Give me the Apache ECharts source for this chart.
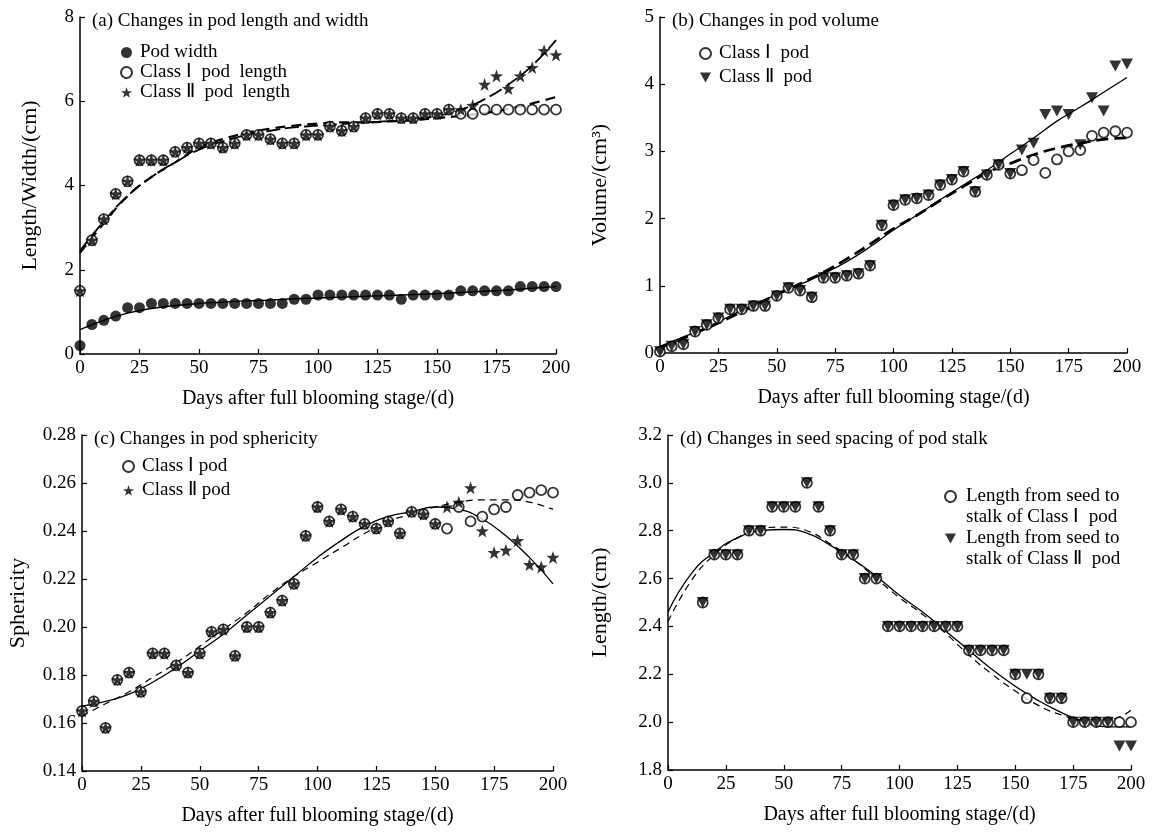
<!DOCTYPE html>
<html>
<head>
<meta charset="utf-8">
<script src="https://cdn.jsdelivr.net/npm/echarts@6/dist/echarts.min.js"></script>
<style>
html,body{margin:0;padding:0;background:#fff;}
#chart{width:1159px;height:834px;}
</style>
</head>
<body>
<div id="chart"></div>
<script>
// ---------- data ----------
const days = [0,5,10,15,20,25,30,35,40,45,50,55,60,65,70,75,80,85,90,95,100,105,110,115,120,125,130,135,140,145,150,155,160,165,170,175,180,185,190,195,200];
const fitDays = [0,10,20,30,40,50,60,70,80,90,100,110,120,130,140,150,160,170,180,190,200];
const xTicks = [0,25,50,75,100,125,150,175,200];

// (a) pod length and width
const aWidth = [0.2,0.7,0.8,0.9,1.1,1.1,1.2,1.2,1.2,1.2,1.2,1.2,1.2,1.2,1.2,1.2,1.2,1.2,1.3,1.3,1.4,1.4,1.4,1.4,1.4,1.4,1.4,1.3,1.4,1.4,1.4,1.4,1.5,1.5,1.5,1.5,1.5,1.6,1.6,1.6,1.6];
const aLenI = [1.5,2.7,3.2,3.8,4.1,4.6,4.6,4.6,4.8,4.9,5.0,5.0,4.9,5.0,5.2,5.2,5.1,5.0,5.0,5.2,5.2,5.4,5.3,5.4,5.6,5.7,5.7,5.6,5.6,5.7,5.7,5.8,5.7,5.7,5.8,5.8,5.8,5.8,5.8,5.8,5.8];
const aLenII = [1.5,2.7,3.2,3.8,4.1,4.6,4.6,4.6,4.8,4.9,5.0,5.0,4.9,5.0,5.2,5.2,5.1,5.0,5.0,5.2,5.2,5.4,5.3,5.4,5.6,5.7,5.7,5.6,5.6,5.7,5.7,5.8,5.8,5.9,6.4,6.6,6.3,6.6,6.8,7.2,7.1];
const aFitWidth = [0.58,0.8,0.97,1.08,1.15,1.2,1.23,1.26,1.28,1.31,1.33,1.35,1.37,1.39,1.41,1.43,1.46,1.49,1.52,1.56,1.6];
const aFitLenI = [2.4,3.1,3.75,4.2,4.55,4.9,5.1,5.25,5.35,5.42,5.47,5.5,5.5,5.52,5.55,5.6,5.65,5.72,5.82,5.95,6.1];
const aFitLenII = [2.45,3.15,3.75,4.2,4.55,4.85,5.05,5.2,5.3,5.38,5.42,5.46,5.5,5.53,5.58,5.65,5.8,6.05,6.4,6.85,7.45];

// (b) pod volume
const bVolI = [0.02,0.1,0.13,0.32,0.42,0.52,0.65,0.65,0.7,0.7,0.85,0.97,0.93,0.83,1.12,1.12,1.15,1.18,1.3,1.9,2.2,2.28,2.3,2.35,2.5,2.58,2.7,2.4,2.65,2.8,2.67,2.72,2.87,2.68,2.88,3.0,3.02,3.23,3.28,3.3,3.28];
const bVolII = [0.02,0.1,0.13,0.32,0.42,0.52,0.65,0.65,0.7,0.7,0.85,0.97,0.93,0.83,1.12,1.12,1.15,1.18,1.3,1.9,2.2,2.28,2.3,2.35,2.5,2.58,2.7,2.4,2.65,2.8,2.67,3.02,3.12,3.55,3.6,3.55,3.1,3.8,3.6,4.27,4.3];
const bFitI = [0.08,0.22,0.37,0.53,0.7,0.87,1.03,1.2,1.4,1.62,1.85,2.05,2.27,2.48,2.68,2.82,2.95,3.05,3.12,3.18,3.2];
const bFitII = [0.1,0.24,0.38,0.55,0.72,0.87,1.02,1.18,1.36,1.58,1.83,2.05,2.28,2.5,2.72,2.96,3.2,3.45,3.66,3.88,4.1];

// (c) pod sphericity
const cSphI = [0.165,0.169,0.158,0.178,0.181,0.173,0.189,0.189,0.184,0.181,0.189,0.198,0.199,0.188,0.2,0.2,0.206,0.211,0.218,0.238,0.25,0.244,0.249,0.246,0.243,0.241,0.244,0.239,0.248,0.247,0.243,0.241,0.25,0.244,0.246,0.249,0.25,0.255,0.256,0.257,0.256];
const cSphII = [0.165,0.169,0.158,0.178,0.181,0.173,0.189,0.189,0.184,0.181,0.189,0.198,0.199,0.188,0.2,0.2,0.206,0.211,0.218,0.238,0.25,0.244,0.249,0.246,0.243,0.241,0.244,0.239,0.248,0.247,0.243,0.25,0.252,0.258,0.24,0.231,0.232,0.236,0.226,0.225,0.229];
const cFitI = [0.163,0.168,0.173,0.179,0.185,0.192,0.199,0.206,0.214,0.221,0.227,0.233,0.239,0.244,0.247,0.25,0.252,0.253,0.253,0.252,0.249];
const cFitII = [0.167,0.169,0.172,0.177,0.183,0.19,0.197,0.205,0.213,0.221,0.229,0.236,0.242,0.246,0.248,0.25,0.249,0.245,0.238,0.229,0.218];

// (d) seed spacing of pod stalk
const dLenI = [null,null,null,2.5,2.7,2.7,2.7,2.8,2.8,2.9,2.9,2.9,3.0,2.9,2.8,2.7,2.7,2.6,2.6,2.4,2.4,2.4,2.4,2.4,2.4,2.4,2.3,2.3,2.3,2.3,2.2,2.1,2.2,2.1,2.1,2.0,2.0,2.0,2.0,2.0,2.0];
const dLenII = [null,null,null,2.5,2.7,2.7,2.7,2.8,2.8,2.9,2.9,2.9,3.0,2.9,2.8,2.7,2.7,2.6,2.6,2.4,2.4,2.4,2.4,2.4,2.4,2.4,2.3,2.3,2.3,2.3,2.2,2.2,2.2,2.1,2.1,2.0,2.0,2.0,2.0,1.9,1.9];
const dFitI = [2.42,2.59,2.7,2.77,2.81,2.815,2.8,2.745,2.68,2.6,2.52,2.45,2.37,2.28,2.2,2.13,2.07,2.03,2.01,2.01,2.05];
const dFitII = [2.46,2.62,2.71,2.77,2.8,2.805,2.79,2.74,2.68,2.61,2.53,2.46,2.38,2.3,2.22,2.15,2.09,2.04,2.0,1.98,1.98];

// ---------- helpers ----------
const FONT = '"Liberation Serif","Times New Roman",serif';
const STAR = 'path://M0,-10 L2.35,-3.24 L9.51,-3.09 L3.8,1.24 L5.88,8.09 L0,4 L-5.88,8.09 L-3.8,1.24 L-9.51,-3.09 L-2.35,-3.24 Z';
const TRI = 'path://M0,0 L10,0 L5,9 Z';
const pairs = (xs, ys) => xs.map((x, i) => [x, ys[i]]).filter(p => p[1] !== null && p[1] !== undefined);

function filled(name, idx, ys) {
  return {name, type:'scatter', xAxisIndex:idx, yAxisIndex:idx, symbol:'circle', symbolSize:11,
    itemStyle:{color:'#000'}, data:pairs(days, ys), z:3};
}
function hollow(name, idx, ys) {
  return {name, type:'scatter', xAxisIndex:idx, yAxisIndex:idx, symbol:'circle', symbolSize:10,
    itemStyle:{color:'#fff', borderColor:'#000', borderWidth:1.8}, data:pairs(days, ys), z:3};
}
function star(name, idx, ys) {
  return {name, type:'scatter', xAxisIndex:idx, yAxisIndex:idx, symbol:STAR, symbolSize:13,
    itemStyle:{color:'#000'}, data:pairs(days, ys), z:4};
}
function tri(name, idx, ys) {
  return {name, type:'scatter', xAxisIndex:idx, yAxisIndex:idx, symbol:TRI, symbolSize:[12,11],
    itemStyle:{color:'#000'}, data:pairs(days, ys), z:4};
}
function fit(name, idx, ys, dash, width) {
  return {name, type:'line', xAxisIndex:idx, yAxisIndex:idx, smooth:true, showSymbol:false, silent:true,
    lineStyle:{color:'#000', width:width||1.3, type:dash||'solid'}, data:pairs(fitDays, ys), z:2};
}
function xAx(idx) {
  return {gridIndex:idx, type:'value', min:0, max:200, interval:25,
    name:'Days after full blooming stage/(d)', nameLocation:'middle', nameGap:35,
    nameTextStyle:{fontFamily:FONT, fontSize:20, color:'#000'},
    axisLine:{show:true, onZero:false, lineStyle:{color:'#000', width:1.5}},
    axisTick:{show:true, inside:true, length:5, lineStyle:{color:'#000', width:1.2}},
    axisLabel:{fontFamily:FONT, fontSize:19, color:'#000', margin:5, formatter:v => xTicks.includes(v) ? String(v) : ''},
    splitLine:{show:false}};
}
function yAx(idx, min, max, interval, name, gap, dec) {
  return {gridIndex:idx, type:'value', min, max, interval,
    name, nameLocation:'middle', nameGap:gap,
    nameTextStyle:{fontFamily:FONT, fontSize:22, color:'#000'},
    axisLine:{show:true, onZero:false, lineStyle:{color:'#000', width:1.5}},
    axisTick:{show:true, inside:true, length:5, lineStyle:{color:'#000', width:1.2}},
    axisLabel:{fontFamily:FONT, fontSize:19, color:'#000', margin:6, formatter:v => v.toFixed(dec)},
    splitLine:{show:false}};
}
function ttl(text, left, top) {
  return {text, left, top, textStyle:{fontFamily:FONT, fontSize:19, fontWeight:'normal', color:'#000'}};
}
function leg(left, top, data, gap) {
  return {left, top, orient:'vertical', itemGap:gap, itemWidth:11, itemHeight:11, selectedMode:false,
    textStyle:{fontFamily:FONT, fontSize:19, color:'#000', padding:[0,0,0,3]}, data};
}

const aN = ['Pod width', 'Class Ⅰ  pod  length', 'Class Ⅱ  pod  length'];
const bN = ['Class Ⅰ  pod', 'Class Ⅱ  pod'];
const cN = ['Class Ⅰ pod', 'Class Ⅱ pod'];
const dN = ['Length from seed to', 'stalk of Class Ⅰ  pod', 'Length from seed to ', 'stalk of Class Ⅱ  pod'];

const option = {
  backgroundColor:'#fff',
  animation:false,
  title:[
    ttl('(a) Changes in pod length and width', 87, 7),
    ttl('(b) Changes in pod volume', 667, 7),
    ttl('(c) Changes in pod sphericity', 89, 425),
    ttl('(d) Changes in seed spacing of pod stalk', 675, 425)
  ],
  legend:[
    leg(115, 38, aN, 1),
    leg(694, 39, bN, 5),
    leg(117, 452, cN, 5),
    {left:939, top:482, orient:'vertical', itemGap:2, itemWidth:11, itemHeight:11, selectedMode:false,
      textStyle:{fontFamily:FONT, fontSize:19, color:'#000', padding:[0,0,0,5]},
      data:[{name:dN[0]}, {name:dN[1], icon:'none'}, {name:dN[2]}, {name:dN[3], icon:'none'}]}
  ],
  grid:[
    {left:80, top:17, width:476, height:337},
    {left:660, top:17, width:467, height:336},
    {left:82, top:435, width:471, height:336},
    {left:668, top:435, width:463, height:335}
  ],
  xAxis:[xAx(0), xAx(1), xAx(2), xAx(3)],
  yAxis:[
    yAx(0, 0, 8, 2, 'Length/Width/(cm)', 39, 0),
    yAx(1, 0, 5, 1, 'Volume/(cm³)', 49, 0),
    yAx(2, 0.14, 0.28, 0.02, 'Sphericity', 53, 2),
    yAx(3, 1.8, 3.2, 0.2, 'Length/(cm)', 57, 1)
  ],
  series:[
    // (a)
    fit('a-fit-width', 0, aFitWidth, 'solid', 1.4),
    fit('a-fit-len-I', 0, aFitLenI, [10,6], 2.2),
    fit('a-fit-len-II', 0, aFitLenII, [14,5], 1.8),
    filled(aN[0], 0, aWidth),
    hollow(aN[1], 0, aLenI),
    star(aN[2], 0, aLenII),
    // (b)
    fit('b-fit-I', 1, bFitI, [12,6], 2.8),
    fit('b-fit-II', 1, bFitII, 'solid', 1.3),
    hollow(bN[0], 1, bVolI),
    tri(bN[1], 1, bVolII),
    // (c)
    fit('c-fit-I', 2, cFitI, [7,5], 1.2),
    fit('c-fit-II', 2, cFitII, 'solid', 1.3),
    hollow(cN[0], 2, cSphI),
    star(cN[1], 2, cSphII),
    // (d)
    fit('d-fit-I', 3, dFitI, [7,5], 1.2),
    fit('d-fit-II', 3, dFitII, 'solid', 1.3),
    hollow(dN[0], 3, dLenI),
    {name:dN[1], type:'scatter', xAxisIndex:3, yAxisIndex:3, data:[]},
    tri(dN[2], 3, dLenII),
    {name:dN[3], type:'scatter', xAxisIndex:3, yAxisIndex:3, data:[]}
  ]
};

const chart = echarts.init(document.getElementById('chart'), null, {renderer:'canvas'});
chart.setOption(option);
</script>
</body>
</html>
